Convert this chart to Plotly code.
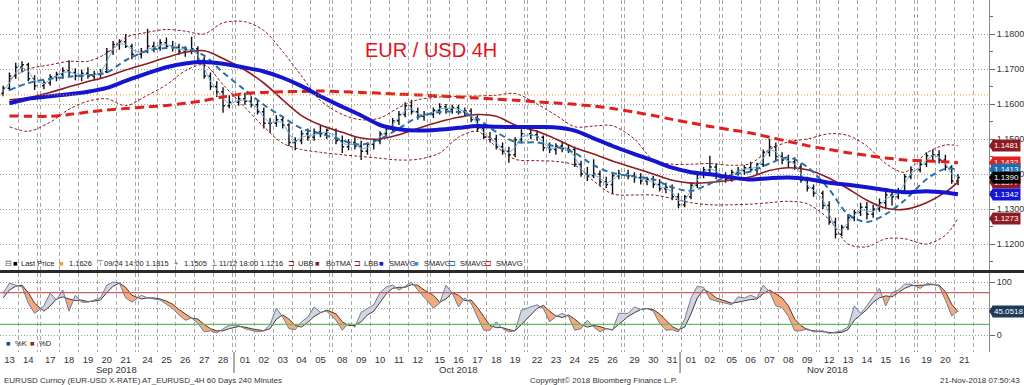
import numpy as np
import pandas as pd
import plotly.graph_objects as go

# ---------------- data ----------------
days = ["2018-09-13", "2018-09-14",
        "2018-09-17", "2018-09-18", "2018-09-19", "2018-09-20", "2018-09-21",
        "2018-09-24", "2018-09-25", "2018-09-26", "2018-09-27", "2018-09-28",
        "2018-10-01", "2018-10-02", "2018-10-03", "2018-10-04", "2018-10-05",
        "2018-10-08", "2018-10-09", "2018-10-10", "2018-10-11", "2018-10-12",
        "2018-10-15", "2018-10-16", "2018-10-17", "2018-10-18", "2018-10-19",
        "2018-10-22", "2018-10-23", "2018-10-24", "2018-10-25", "2018-10-26",
        "2018-10-29", "2018-10-30", "2018-10-31", "2018-11-01", "2018-11-02",
        "2018-11-05", "2018-11-06", "2018-11-07", "2018-11-08", "2018-11-09",
        "2018-11-12", "2018-11-13", "2018-11-14", "2018-11-15", "2018-11-16",
        "2018-11-19", "2018-11-20", "2018-11-21"]
day_labels = ["13", "14", "17", "18", "19", "20", "21", "24", "25", "26", "27", "28",
              "01", "02", "03", "04", "05", "08", "09", "10", "11", "12", "15", "16", "17",
              "18", "19", "22", "23", "24", "25", "26", "29", "30", "31",
              "01", "02", "05", "06", "07", "08", "09", "12", "13", "14", "15", "16",
              "19", "20", "21"]
month_labels = ["Sep 2018", "Oct 2018", "Nov 2018"]
bars_per_day = [3] * 49 + [1]

opens = [1.1630, 1.1645, 1.1680, 1.1705, 1.1712, 1.1672,
         1.1652, 1.1660, 1.1678, 1.1685, 1.1695, 1.1690, 1.1680, 1.1688, 1.1680, 1.1685, 1.1692, 1.1750, 1.1770, 1.1778, 1.1765,
         1.1742, 1.1750, 1.1765, 1.1760, 1.1775, 1.1765, 1.1762, 1.1750, 1.1755, 1.1758, 1.1725, 1.1680, 1.1650, 1.1635, 1.1595,
         1.1605, 1.1615, 1.1608, 1.1598, 1.1578, 1.1545, 1.1545, 1.1555, 1.1540, 1.1490, 1.1495, 1.1515, 1.1505, 1.1520, 1.1515,
         1.1525, 1.1495, 1.1478, 1.1490, 1.1480, 1.1465, 1.1485, 1.1495, 1.1515, 1.1530, 1.1552, 1.1570, 1.1595, 1.1578, 1.1565,
         1.1570, 1.1582, 1.1592, 1.1585, 1.1590, 1.1578, 1.1580, 1.1555, 1.1530, 1.1505, 1.1500, 1.1478, 1.1465, 1.1455, 1.1498,
         1.1515, 1.1512, 1.1505, 1.1475, 1.1470, 1.1480, 1.1472, 1.1470, 1.1428, 1.1400, 1.1395, 1.1400, 1.1378, 1.1370, 1.1395,
         1.1400, 1.1395, 1.1390, 1.1380, 1.1385, 1.1370, 1.1358, 1.1362, 1.1335, 1.1312, 1.1335, 1.1368, 1.1398, 1.1412, 1.1420,
         1.1395, 1.1385, 1.1405, 1.1410, 1.1418, 1.1412, 1.1428, 1.1462, 1.1478, 1.1450, 1.1440, 1.1435, 1.1420, 1.1382, 1.1360,
         1.1345, 1.1310, 1.1262, 1.1228, 1.1248, 1.1275, 1.1290, 1.1305, 1.1285, 1.1300, 1.1318, 1.1340, 1.1335, 1.1352, 1.1392,
         1.1412, 1.1428, 1.1452, 1.1455, 1.1440, 1.1420, 1.1380]
highs = [1.1652, 1.1690, 1.1718, 1.1722, 1.1718, 1.1682,
         1.1668, 1.1685, 1.1692, 1.1705, 1.1725, 1.1702, 1.1698, 1.1705, 1.1695, 1.1700, 1.1760, 1.1780, 1.1785, 1.1800, 1.1772,
         1.1760, 1.1815, 1.1778, 1.1785, 1.1790, 1.1780, 1.1772, 1.1765, 1.1792, 1.1765, 1.1735, 1.1690, 1.1665, 1.1648, 1.1625,
         1.1625, 1.1632, 1.1622, 1.1610, 1.1590, 1.1560, 1.1568, 1.1565, 1.1545, 1.1505, 1.1525, 1.1530, 1.1530, 1.1538, 1.1530,
         1.1530, 1.1510, 1.1500, 1.1505, 1.1495, 1.1490, 1.1500, 1.1522, 1.1540, 1.1560, 1.1580, 1.1605, 1.1612, 1.1590, 1.1580,
         1.1590, 1.1602, 1.1600, 1.1598, 1.1598, 1.1590, 1.1588, 1.1568, 1.1542, 1.1520, 1.1512, 1.1490, 1.1478, 1.1505, 1.1528,
         1.1528, 1.1525, 1.1510, 1.1490, 1.1488, 1.1492, 1.1485, 1.1478, 1.1438, 1.1420, 1.1442, 1.1410, 1.1392, 1.1400, 1.1412,
         1.1412, 1.1405, 1.1402, 1.1392, 1.1395, 1.1385, 1.1375, 1.1370, 1.1345, 1.1340, 1.1375, 1.1405, 1.1420, 1.1452, 1.1430,
         1.1405, 1.1412, 1.1420, 1.1425, 1.1435, 1.1432, 1.1470, 1.1500, 1.1490, 1.1462, 1.1455, 1.1448, 1.1430, 1.1392, 1.1370,
         1.1352, 1.1322, 1.1275, 1.1255, 1.1285, 1.1298, 1.1318, 1.1320, 1.1312, 1.1330, 1.1355, 1.1352, 1.1360, 1.1400, 1.1422,
         1.1435, 1.1462, 1.1470, 1.1468, 1.1455, 1.1425, 1.1400]
lows = [1.1622, 1.1638, 1.1672, 1.1690, 1.1665, 1.1640,
        1.1642, 1.1652, 1.1665, 1.1672, 1.1680, 1.1668, 1.1665, 1.1672, 1.1668, 1.1672, 1.1688, 1.1740, 1.1755, 1.1760, 1.1728,
        1.1730, 1.1745, 1.1748, 1.1752, 1.1758, 1.1750, 1.1740, 1.1735, 1.1742, 1.1718, 1.1672, 1.1640, 1.1620, 1.1575, 1.1588,
        1.1595, 1.1598, 1.1590, 1.1570, 1.1530, 1.1518, 1.1535, 1.1530, 1.1480, 1.1468, 1.1485, 1.1495, 1.1495, 1.1505, 1.1500,
        1.1485, 1.1460, 1.1468, 1.1470, 1.1440, 1.1455, 1.1470, 1.1485, 1.1505, 1.1522, 1.1540, 1.1562, 1.1570, 1.1555, 1.1552,
        1.1560, 1.1570, 1.1572, 1.1572, 1.1570, 1.1565, 1.1548, 1.1520, 1.1500, 1.1490, 1.1470, 1.1455, 1.1432, 1.1448, 1.1488,
        1.1500, 1.1495, 1.1465, 1.1460, 1.1455, 1.1462, 1.1460, 1.1420, 1.1392, 1.1380, 1.1388, 1.1365, 1.1360, 1.1343, 1.1385,
        1.1385, 1.1375, 1.1370, 1.1368, 1.1360, 1.1350, 1.1345, 1.1325, 1.1302, 1.1305, 1.1328, 1.1360, 1.1388, 1.1400, 1.1385,
        1.1375, 1.1378, 1.1395, 1.1398, 1.1405, 1.1400, 1.1420, 1.1450, 1.1440, 1.1428, 1.1420, 1.1412, 1.1375, 1.1350, 1.1335,
        1.1300, 1.1255, 1.1216, 1.1222, 1.1240, 1.1265, 1.1280, 1.1270, 1.1275, 1.1292, 1.1300, 1.1310, 1.1328, 1.1345, 1.1385,
        1.1405, 1.1420, 1.1440, 1.1430, 1.1410, 1.1372, 1.1368]
closes = [1.1645, 1.1680, 1.1705, 1.1712, 1.1672, 1.1652,
          1.1660, 1.1678, 1.1685, 1.1695, 1.1690, 1.1680, 1.1688, 1.1680, 1.1685, 1.1692, 1.1750, 1.1770, 1.1778, 1.1765, 1.1742,
          1.1750, 1.1765, 1.1760, 1.1775, 1.1765, 1.1762, 1.1750, 1.1755, 1.1758, 1.1725, 1.1680, 1.1650, 1.1635, 1.1595, 1.1605,
          1.1615, 1.1608, 1.1598, 1.1578, 1.1545, 1.1545, 1.1555, 1.1540, 1.1490, 1.1495, 1.1515, 1.1505, 1.1520, 1.1515, 1.1525,
          1.1495, 1.1478, 1.1490, 1.1480, 1.1465, 1.1485, 1.1495, 1.1515, 1.1530, 1.1552, 1.1570, 1.1595, 1.1578, 1.1565, 1.1570,
          1.1582, 1.1592, 1.1585, 1.1590, 1.1578, 1.1580, 1.1555, 1.1530, 1.1505, 1.1500, 1.1478, 1.1465, 1.1455, 1.1498, 1.1515,
          1.1512, 1.1505, 1.1475, 1.1470, 1.1480, 1.1472, 1.1470, 1.1428, 1.1400, 1.1395, 1.1400, 1.1378, 1.1370, 1.1395, 1.1400,
          1.1395, 1.1390, 1.1380, 1.1385, 1.1370, 1.1358, 1.1362, 1.1335, 1.1312, 1.1335, 1.1368, 1.1398, 1.1412, 1.1420, 1.1395,
          1.1385, 1.1405, 1.1410, 1.1418, 1.1412, 1.1428, 1.1462, 1.1478, 1.1450, 1.1440, 1.1435, 1.1420, 1.1382, 1.1360, 1.1345,
          1.1310, 1.1262, 1.1228, 1.1248, 1.1275, 1.1290, 1.1305, 1.1285, 1.1300, 1.1318, 1.1340, 1.1335, 1.1352, 1.1392, 1.1412,
          1.1428, 1.1452, 1.1455, 1.1440, 1.1420, 1.1380, 1.1390]
sma_fast = [1.1638, 1.1660, 1.1690, 1.1705, 1.1695, 1.1665,
            1.1658, 1.1668, 1.1680, 1.1690, 1.1692, 1.1686, 1.1684, 1.1684, 1.1683, 1.1688, 1.1720, 1.1758, 1.1772, 1.1770, 1.1755,
            1.1747, 1.1756, 1.1762, 1.1768, 1.1770, 1.1764, 1.1756, 1.1752, 1.1756, 1.1740, 1.1702, 1.1665, 1.1642, 1.1615, 1.1600,
            1.1610, 1.1612, 1.1603, 1.1588, 1.1562, 1.1545, 1.1550, 1.1548, 1.1515, 1.1492, 1.1505, 1.1510, 1.1512, 1.1518, 1.1520,
            1.1510, 1.1487, 1.1484, 1.1485, 1.1472, 1.1475, 1.1490, 1.1505, 1.1522, 1.1541, 1.1561, 1.1582, 1.1586, 1.1572, 1.1568,
            1.1576, 1.1587, 1.1588, 1.1588, 1.1584, 1.1579, 1.1568, 1.1542, 1.1518, 1.1502, 1.1489, 1.1472, 1.1460, 1.1476, 1.1506,
            1.1513, 1.1508, 1.1490, 1.1472, 1.1475, 1.1476, 1.1471, 1.1449, 1.1414, 1.1398, 1.1398, 1.1389, 1.1374, 1.1382, 1.1398,
            1.1398, 1.1392, 1.1385, 1.1382, 1.1378, 1.1364, 1.1360, 1.1348, 1.1324, 1.1323, 1.1352, 1.1383, 1.1405, 1.1416, 1.1408,
            1.1390, 1.1395, 1.1408, 1.1414, 1.1415, 1.1420, 1.1445, 1.1470, 1.1464, 1.1445, 1.1438, 1.1428, 1.1401, 1.1371, 1.1352,
            1.1328, 1.1286, 1.1245, 1.1238, 1.1262, 1.1282, 1.1298, 1.1295, 1.1292, 1.1309, 1.1329, 1.1338, 1.1344, 1.1372, 1.1402,
            1.1420, 1.1440, 1.1454, 1.1448, 1.1430, 1.1400, 1.1392]

# daily-sampled indicators (one value per trading day)
sma_slow_blue = [1.1602, 1.1615, 1.1622, 1.1628, 1.1635, 1.1646, 1.1666, 1.1688, 1.1705, 1.1716, 1.1720, 1.1715,
                 1.1704, 1.1693, 1.1675, 1.1651, 1.1622, 1.1592, 1.1567, 1.1540, 1.1528, 1.1524, 1.1527, 1.1532,
                 1.1537, 1.1535, 1.1534, 1.1534, 1.1533, 1.1524, 1.1502, 1.1480, 1.1457, 1.1438, 1.1418,
                 1.1405, 1.1399, 1.1390, 1.1384, 1.1388, 1.1390, 1.1386, 1.1375, 1.1369, 1.1362, 1.1354, 1.1348,
                 1.1351, 1.1347, 1.1342]
sma_long_red = [1.1566, 1.1565, 1.1565, 1.1570, 1.1577, 1.1583, 1.1587, 1.1592, 1.1596, 1.1602, 1.1610, 1.1620,
                1.1630, 1.1633, 1.1635, 1.1636, 1.1637, 1.1635, 1.1633, 1.1631, 1.1628, 1.1626, 1.1623, 1.1620,
                1.1617, 1.1614, 1.1611, 1.1606, 1.1603, 1.1599, 1.1594, 1.1587, 1.1577, 1.1567, 1.1556,
                1.1546, 1.1536, 1.1526, 1.1517, 1.1505, 1.1493, 1.1481, 1.1470, 1.1461, 1.1453, 1.1446, 1.1440,
                1.1437, 1.1435, 1.1432]
bb_mid = [1.1612, 1.1618, 1.1633, 1.1649, 1.1664, 1.1678, 1.1697, 1.1716, 1.1733, 1.1748, 1.1752, 1.1730,
          1.1697, 1.1660, 1.1612, 1.1567, 1.1540, 1.1519, 1.1503, 1.1500, 1.1512, 1.1530, 1.1549, 1.1562,
          1.1570, 1.1565, 1.1540, 1.1522, 1.1500, 1.1475, 1.1457, 1.1437, 1.1417, 1.1400, 1.1382,
          1.1374, 1.1376, 1.1383, 1.1392, 1.1410, 1.1418, 1.1412, 1.1388, 1.1358, 1.1325, 1.1302, 1.1299,
          1.1318, 1.1348, 1.1377]
bb_upper = [1.1670, 1.1700, 1.1712, 1.1722, 1.1722, 1.1745, 1.1790, 1.1805, 1.1813, 1.1808, 1.1800, 1.1832,
            1.1835, 1.1810, 1.1750, 1.1680, 1.1610, 1.1570, 1.1555, 1.1560, 1.1590, 1.1612, 1.1620, 1.1622,
            1.1623, 1.1625, 1.1630, 1.1600, 1.1568, 1.1535, 1.1537, 1.1538, 1.1500, 1.1440, 1.1428,
            1.1428, 1.1430, 1.1425, 1.1430, 1.1470, 1.1492, 1.1500, 1.1515, 1.1510, 1.1480, 1.1430, 1.1405,
            1.1460, 1.1483, 1.1481]
bb_lower = [1.1535, 1.1522, 1.1548, 1.1585, 1.1608, 1.1615, 1.1595, 1.1625, 1.1655, 1.1695, 1.1712, 1.1655,
            1.1590, 1.1535, 1.1488, 1.1470, 1.1462, 1.1455, 1.1450, 1.1445, 1.1440, 1.1442, 1.1460, 1.1505,
            1.1522, 1.1478, 1.1442, 1.1438, 1.1436, 1.1425, 1.1380, 1.1343, 1.1340, 1.1340, 1.1330,
            1.1318, 1.1312, 1.1312, 1.1314, 1.1318, 1.1322, 1.1315, 1.1270, 1.1200, 1.1192, 1.1215, 1.1215,
            1.1200, 1.1225, 1.1273]
sma_mid_dash = [1.1640, 1.1660, 1.1672, 1.1678, 1.1682, 1.1690, 1.1725, 1.1752, 1.1760, 1.1760, 1.1738, 1.1690,
                1.1640, 1.1598, 1.1563, 1.1530, 1.1515, 1.1496, 1.1484, 1.1500, 1.1530, 1.1562, 1.1577, 1.1577,
                1.1558, 1.1520, 1.1492, 1.1490, 1.1478, 1.1460, 1.1425, 1.1403, 1.1393, 1.1385, 1.1362,
                1.1352, 1.1372, 1.1397, 1.1407, 1.1430, 1.1447, 1.1420, 1.1356, 1.1285, 1.1263, 1.1285, 1.1325,
                1.1385, 1.1415, 1.1413]
level_line = 1.1626

stoch_k = [79, 98, 94, 91, 60, 41,
           55, 79, 66, 85, 45, 75, 62, 62, 66, 70, 94, 100, 98, 70, 62,
           75, 70, 68, 66, 58, 50, 38, 28, 32, 22, 6, 8, 4, 12, 19,
           18, 12, 9, 6, 8, 20, 51, 34, 12, 10, 25, 34, 53, 43, 45,
           28, 9, 22, 15, 43, 50, 57, 80, 91, 94, 85, 92, 100, 85, 72,
           51, 60, 94, 79, 53, 70, 60, 34, 9, 9, 25, 12, 6, 8, 47,
           53, 57, 50, 25, 35, 41, 35, 9, 12, 28, 15, 6, 12, 9, 41,
           41, 53, 48, 50, 45, 22, 9, 10, 6, 30, 70, 92, 90, 68, 64,
           60, 57, 72, 70, 75, 70, 94, 82, 55, 52, 35, 8, 8, 12, 6,
           8, 3, 5, 8, 15, 55, 41, 55, 72, 88, 55, 80, 85, 96, 96,
           88, 97, 96, 92, 66, 36, 45.0518]
stoch_d = [70, 85, 92, 94, 80, 60,
           45, 55, 68, 72, 68, 65, 66, 63, 64, 66, 80, 92, 98, 90, 75,
           68, 70, 70, 68, 64, 58, 48, 40, 32, 30, 20, 12, 8, 8, 12,
           16, 15, 12, 10, 8, 12, 30, 38, 30, 18, 15, 24, 35, 42, 47,
           40, 25, 18, 18, 25, 38, 45, 62, 78, 88, 90, 90, 95, 94, 85,
           75, 62, 68, 80, 75, 65, 66, 52, 35, 18, 14, 14, 10, 8, 20,
           38, 50, 56, 45, 36, 33, 38, 30, 20, 15, 18, 16, 12, 10, 20,
           35, 42, 48, 50, 48, 40, 28, 16, 10, 15, 40, 70, 86, 80, 70,
           64, 60, 62, 65, 67, 68, 78, 85, 78, 70, 55, 30, 18, 10, 8,
           7, 5, 4, 5, 10, 28, 38, 48, 62, 70, 74, 72, 80, 88, 93,
           94, 94, 95, 94, 82, 58, 44]
stoch_hi, stoch_lo = 80, 20

n_bars = sum(bars_per_day)
for arr in (opens, highs, lows, closes, sma_fast, stoch_k, stoch_d):
    assert len(arr) == n_bars, len(arr)
for arr in (sma_slow_blue, sma_long_red, bb_mid, bb_upper, bb_lower, sma_mid_dash, day_labels):
    assert len(arr) == len(days), len(arr)

# ---------------- x positions (trading-day axis with small weekend gap) ----------------
dts = pd.to_datetime(days)
week = np.asarray(((dts - dts[0]).days + dts[0].weekday()) // 7)
GAP = 0.16
start = np.arange(len(days)) + GAP * week
bar_x = [start[i] + (k + 0.5) / 3 for i in range(len(days)) for k in range(bars_per_day[i])]
day_x = [start[i] + 0.5 for i in range(len(days) - 1)] + [bar_x[-1]]
tick_x = [s + 0.5 for s in start]
bounds = []
for i, s in enumerate(start):
    bounds.append(s)
    if i + 1 == len(start) or start[i + 1] - (s + 1) > 0.05:
        bounds.append(s + 1)
month_first = [i for i in range(1, len(days)) if days[i][5:7] != days[i - 1][5:7]]
month_sep_x = [start[i] - GAP / 2 for i in month_first]
month_label_x = [6.18, tick_x[23], tick_x[42] - 0.1]

# ---------------- layout geometry ----------------
W, H = 1024, 385
MR, MB = 35, 33
PW, PH = W - MR, H - MB  # 989 x 352


def ppx(x):
    return x / PW


def ppy(y):
    return (PH - y) / PH


XR = [0, PW / 18.87]
FNT = "Liberation Sans, Arial, sans-serif"
SANS = "Liberation Sans, Arial, sans-serif"

fig = go.Figure()


def line(x, y, color, width, dash="solid", shape="spline", axis=("x", "y")):
    fig.add_trace(go.Scatter(x=x, y=y, mode="lines", xaxis=axis[0], yaxis=axis[1],
                             line=dict(color=color, width=width, dash=dash, shape=shape, smoothing=0.9),
                             hoverinfo="skip", showlegend=False))


DKRED = "#8e1b22"
line(day_x, bb_upper, DKRED, 1, "3px,2px")
line(day_x, bb_lower, DKRED, 1, "3px,2px")
fig.add_trace(go.Ohlc(x=bar_x, open=opens, high=highs, low=lows, close=closes,
                      increasing=dict(line=dict(color="#111111", width=1.4)),
                      decreasing=dict(line=dict(color="#111111", width=1.4)),
                      tickwidth=0.3, xaxis="x", yaxis="y", showlegend=False, hoverinfo="skip"))
line(day_x, bb_mid, DKRED, 1.6)
line(bar_x, sma_fast, "#6aaee6", 1, shape="linear")
line(day_x, sma_mid_dash, "#2a6ea6", 2, "6px,4px")
line(day_x, sma_long_red, "#e0201c", 3, "9px,5px")
line(day_x, sma_slow_blue, "#1515d0", 4)

# ---- stochastic fills (K above D: grey, K below D: orange) ----
pts = []
for j in range(n_bars):
    if j > 0:
        s0 = stoch_k[j - 1] - stoch_d[j - 1]
        s1 = stoch_k[j] - stoch_d[j]
        if s0 * s1 < 0:
            t = s0 / (s0 - s1)
            xc = bar_x[j - 1] + t * (bar_x[j] - bar_x[j - 1])
            yc = stoch_k[j - 1] + t * (stoch_k[j] - stoch_k[j - 1])
            pts.append((xc, yc, yc))
    pts.append((bar_x[j], stoch_k[j], stoch_d[j]))
runs = []
cur = [pts[0]]
sign = np.sign(pts[0][1] - pts[0][2])
for p in pts[1:]:
    s = np.sign(p[1] - p[2])
    cur.append(p)
    if s == 0:
        runs.append((sign, cur))
        cur = [p]
        sign = 0
    elif sign == 0:
        sign = s
runs.append((sign, cur))
fills = {1: ([], []), -1: ([], [])}
for sgn, run in runs:
    if sgn == 0 or len(run) < 2:
        continue
    fx, fy = fills[int(sgn)]
    fx += [p[0] for p in run] + [p[0] for p in reversed(run)] + [None]
    fy += [p[1] for p in run] + [p[2] for p in reversed(run)] + [None]
for sgn, col in ((1, "rgba(205,210,222,0.9)"), (-1, "rgba(244,160,110,0.9)")):
    fx, fy = fills[sgn]
    fig.add_trace(go.Scatter(x=fx, y=fy, mode="none", fill="toself", fillcolor=col,
                             xaxis="x2", yaxis="y2", hoverinfo="skip", showlegend=False))
line(bar_x, stoch_d, "#4a3a36", 1, shape="linear", axis=("x2", "y2"))
line(bar_x, stoch_k, "#6d7d96", 1, shape="linear", axis=("x2", "y2"))

# ---------------- axes ----------------
main_dom = [ppy(270), 1]
low_dom = [0, ppy(273)]
xcommon = dict(range=XR, showgrid=False, zeroline=False, showline=False,
               minor=dict(tickmode="array", tickvals=bounds, showgrid=True, gridcolor="#a8a8a8",
                          griddash="4px,3px", gridwidth=1, ticks=""))
fig.update_layout(
    width=W, height=H, margin=dict(l=0, r=MR, t=0, b=MB, autoexpand=False),
    paper_bgcolor="white", plot_bgcolor="white", showlegend=False, hovermode=False,
    xaxis=dict(**xcommon, anchor="y", showticklabels=False, rangeslider=dict(visible=False)),
    xaxis2=dict(**xcommon, anchor="y2", matches="x", tickmode="array", tickvals=tick_x,
                ticktext=day_labels, ticks="", tickfont=dict(family=FNT, size=9.5, color="#333")),
    yaxis=dict(domain=main_dom, range=[1.18 - 236 / 3500, 1.18 + 34 / 3500], side="right",
               dtick=0.01, tick0=1.12, tickformat=".4f", showgrid=True, gridcolor="#9a9a9a",
               griddash="1px,2px", zeroline=False, showline=True, linecolor="#8a8a8a",
               ticks="outside", ticklen=5, tickcolor="#666",
               minor=dict(dtick=0.005, ticks="outside", ticklen=3, tickcolor="#666", showgrid=False),
               tickfont=dict(family=FNT, size=9, color="#333"), autorange=False),
    yaxis2=dict(domain=low_dom, range=[-32, 117], side="right", tickmode="array",
                tickvals=[0, 50, 100], ticktext=["0", "", "100"], showgrid=True, gridcolor="#9a9a9a",
                griddash="1px,2px", zeroline=False, showline=True, linecolor="#8a8a8a",
                ticks="outside", ticklen=5, tickcolor="#666",
                tickfont=dict(family=FNT, size=9, color="#333")),
)

shapes = []
shapes.append(dict(type="line", xref="paper", yref="y", x0=0, x1=1, y0=level_line, y1=level_line,
                   line=dict(color="#f0a030", width=1, dash="1px,2px")))
shapes.append(dict(type="line", xref="paper", yref="y2", x0=0, x1=1, y0=stoch_hi, y1=stoch_hi,
                   line=dict(color="#c86060", width=1.2)))
shapes.append(dict(type="line", xref="paper", yref="y2", x0=0, x1=1, y0=stoch_lo, y1=stoch_lo,
                   line=dict(color="#66bb66", width=1.2)))
shapes.append(dict(type="line", xref="paper", yref="paper", x0=0, x1=(W + 5) / PW,
                   y0=ppy(271.5), y1=ppy(271.5), line=dict(color="#2a2a2a", width=3)))
for mx in month_sep_x:
    shapes.append(dict(type="line", xref="x2", yref="paper", x0=mx, x1=mx, y0=ppy(352), y1=ppy(373),
                       line=dict(color="#909090", width=1.5)))

annotations = []
# value tags on the right axis (drawn in stacking order)
tags = [(sma_long_red[-1], "#e0201c", "y"), (bb_mid[-1], DKRED, "y"), (bb_upper[-1], DKRED, "y"),
        (sma_mid_dash[-1], "#1e6db2", "y"), (closes[-1], "#000000", "y"),
        (sma_slow_blue[-1], "#1515d8", "y"), (bb_lower[-1], DKRED, "y"), (stoch_k[-1], "#1d3a58", "y2")]
for val, col, yr in tags:
    shapes.append(dict(type="path", xref="paper", yref=yr, xsizemode="pixel", ysizemode="pixel",
                       xanchor=1, yanchor=val, path="M0,0 L4,6 L4,-6 Z", fillcolor=col,
                       line=dict(width=0)))
    annotations.append(dict(x=1, xref="paper", xanchor="left", xshift=3, y=val, yref=yr,
                            yanchor="middle", text=f"{val:.4f}", showarrow=False, bgcolor=col,
                            borderpad=1, font=dict(family=FNT, size=8, color="white")))

# title
annotations.append(dict(x=ppx(431), y=ppy(50), xref="paper", yref="paper", text="EUR / USD 4H",
                        xanchor="center", yanchor="middle", showarrow=False,
                        font=dict(family=SANS, size=20, color="#e3141b")))

# legend row
leg_y = ppy(263)
legend_items = [
    (3, "⊟", "#555"), (11, "■", "#000"), (19, "Last Price", "#222"), (57, "■", "#f0a030"),
    (67, f"{level_line:.4f}", "#222"), (95, "⊤", "#555"), (102, "09/24 14:00 1.1815", "#222"),
    (172, "+", "#555"), (182, "1.1505", "#222"), (209, "⊥", "#555"), (217, "11/12 18:00 1.1216", "#222"),
    (286, "⊐", DKRED), (296, "UBB", "#222"), (313, "■", DKRED), (324, "BoTMA", "#222"),
    (352, "⊐", DKRED), (362, "LBB", "#222"), (377, "■", "#1515d0"), (387, "SMAVG", "#222"),
    (412, "■", "#3a8ee8"), (422, "SMAVG", "#222"), (447, "⊐", "#2a6ea6"), (458, "SMAVG", "#222"),
    (483, "⊐", "#e0201c"), (494, "SMAVG", "#222")]
for lx, txt, col in legend_items:
    annotations.append(dict(x=ppx(lx), y=leg_y, xref="paper", yref="paper", xanchor="left",
                            yanchor="middle", text=txt, showarrow=False,
                            font=dict(family=FNT, size=7.5, color=col)))
for lx, txt, col in [(4, "■", "#1f4e79"), (13, "%K", "#222"), (28, "■", "#7a3510"), (37, "%D", "#222")]:
    annotations.append(dict(x=ppx(lx), y=ppy(343), xref="paper", yref="paper", xanchor="left",
                            yanchor="middle", text=txt, showarrow=False,
                            font=dict(family=FNT, size=7.5, color=col)))

for mx, mt in zip(month_label_x, month_labels):
    annotations.append(dict(x=mx, y=ppy(369), xref="x2", yref="paper", text=mt, showarrow=False,
                            xanchor="center", yanchor="middle", font=dict(family=FNT, size=9.5, color="#333")))
annotations.append(dict(x=ppx(2), y=ppy(380), xref="paper", yref="paper", xanchor="left", yanchor="middle",
                        text="EURUSD Curncy (EUR-USD X-RATE) AT_EURUSD_4H 60 Days 240 Minutes",
                        showarrow=False, font=dict(family=FNT, size=8, color="#333")))
annotations.append(dict(x=ppx(603), y=ppy(380), xref="paper", yref="paper", xanchor="center", yanchor="middle",
                        text="Copyright© 2018 Bloomberg Finance L.P.", showarrow=False,
                        font=dict(family=FNT, size=8, color="#333")))
annotations.append(dict(x=ppx(1022), y=ppy(380), xref="paper", yref="paper", xanchor="right", yanchor="middle",
                        text="21-Nov-2018 07:50:43", showarrow=False,
                        font=dict(family=FNT, size=8, color="#333")))

fig.update_layout(shapes=shapes, annotations=annotations)
fig.write_html("out.html", config={"displayModeBar": False},
               post_script="document.body.style.margin='0px';")
